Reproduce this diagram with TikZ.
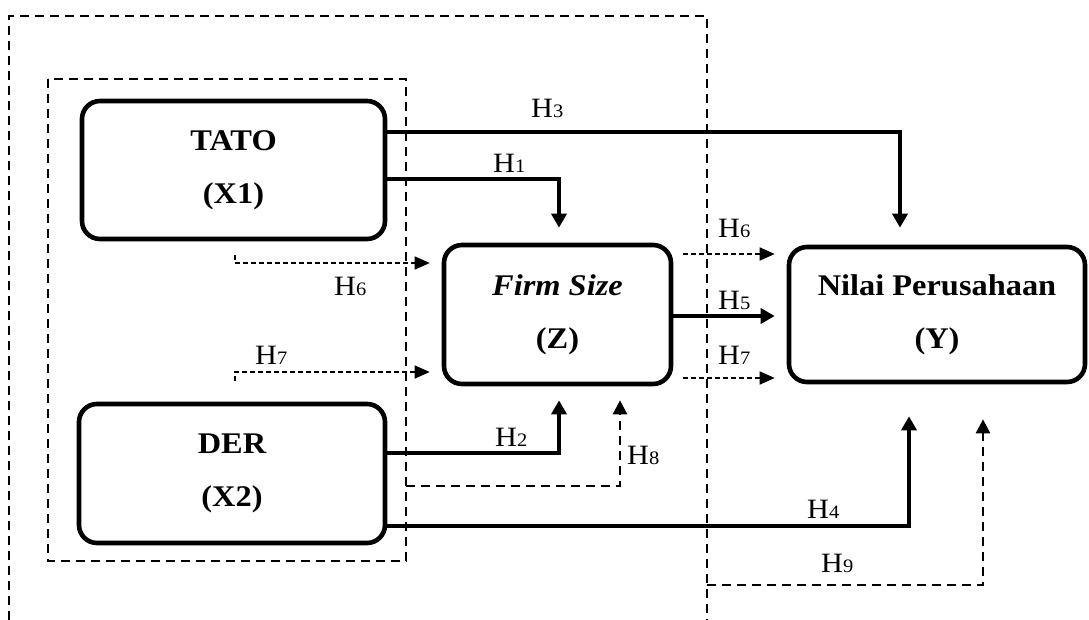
\documentclass[tikz,border=0pt]{standalone}
\usepackage{fontspec}
\setmainfont{Liberation Serif}[FakeStretch=1.08]
\usetikzlibrary{arrows.meta}
\newcommand{\hsub}[1]{{\fontsize{19}{19}\selectfont #1}}
\begin{document}
\begin{tikzpicture}[x=1pt,y=-1pt,
  box/.style={draw, line width=4.6pt, rounded corners=18pt, align=center,
    font=\fontsize{30}{53}\selectfont\bfseries, inner sep=0pt},
  conn/.style={line width=3.4pt, -{Triangle[length=14pt,width=15pt]}},
  dconn/.style={line width=2.5pt, dash pattern=on 9pt off 6pt, -{Triangle[length=14pt,width=14pt]}},
  tconn/.style={line width=1.6pt, dash pattern=on 5pt off 3pt, -{Triangle[length=15pt,width=13pt]}},
  frame/.style={line width=2.5pt, dash pattern=on 9pt off 6pt},
  hl/.style={anchor=base west, inner sep=0pt, font=\fontsize{28}{28}\selectfont}]
\useasboundingbox (0,0) rectangle (1089,620);
% frames
\draw[frame] (9,620) -- (9,16) -- (707,16) -- (707,620);
\draw[frame] (48,79) rectangle (406,561);
% boxes
\node[box, minimum width=303pt, minimum height=138pt] (tato) at (233.5,170) {TATO\\(X1)};
\node[box, minimum width=306pt, minimum height=139pt] (der) at (232,473.5) {DER\\(X2)};
\node[box, minimum width=227pt, minimum height=139pt] (z) at (557.5,314.5) {\textit{Firm Size}\\(Z)};
\node[box, minimum width=296pt, minimum height=135pt] (y) at (937,314.5) {Nilai Perusahaan\\(Y)};
% named free ends
\coordinate (h6s) at (235,255);
\coordinate (h7s) at (235,381);
\coordinate (h8s) at (406,486);
\coordinate (h9s) at (707,585);
% solid connectors
\draw[conn, shorten >=17pt] (tato.east |- 0,132) -| (y.north -| 900,0);
\draw[conn, shorten >=15pt] (tato.east |- 0,179) -| (z.north -| 559,0);
\draw[conn, shorten >=14pt] (der.east |- 0,453) -| (z.south -| 559,0);
\draw[conn, shorten >=32pt] (der.east |- 0,526) -| (y.south -| 909,0);
\draw[conn, shorten >=12pt] (z.east |- 0,316) -- (y.west |- 0,316);
% thin dashed connectors
\draw[tconn, shorten >=12pt] (h6s) -- (h6s |- 0,263) -- (z.west |- 0,263);
\draw[tconn, shorten >=12pt] (h7s) -- (h7s |- 0,372) -- (z.west |- 0,372);
\draw[tconn, shorten <=10pt, shorten >=12pt] (z.east |- 0,254) -- (y.west |- 0,254);
\draw[tconn, shorten <=10pt, shorten >=12pt] (z.east |- 0,378) -- (y.west |- 0,378);
% dashed connectors
\draw[dconn, shorten >=14pt] (h8s) -| (z.south -| 620,0);
\draw[dconn, shorten >=35pt] (h9s) -| (y.south -| 983,0);
% labels
\node[hl] (l3) at (531,118) {H\hsub{3}};
\node[hl] (l1) at (493,173) {H\hsub{1}};
\node[hl] (l6a) at (334,295) {H\hsub{6}};
\node[hl] (l7a) at (255,364) {H\hsub{7}};
\node[hl] (l6b) at (718,238) {H\hsub{6}};
\node[hl] (l5) at (718,309) {H\hsub{5}};
\node[hl] (l7b) at (718,364) {H\hsub{7}};
\node[hl] (l2) at (495,446) {H\hsub{2}};
\node[hl] (l8) at (627,464) {H\hsub{8}};
\node[hl] (l4) at (807,518) {H\hsub{4}};
\node[hl] (l9) at (821,572) {H\hsub{9}};
\end{tikzpicture}
\end{document}
